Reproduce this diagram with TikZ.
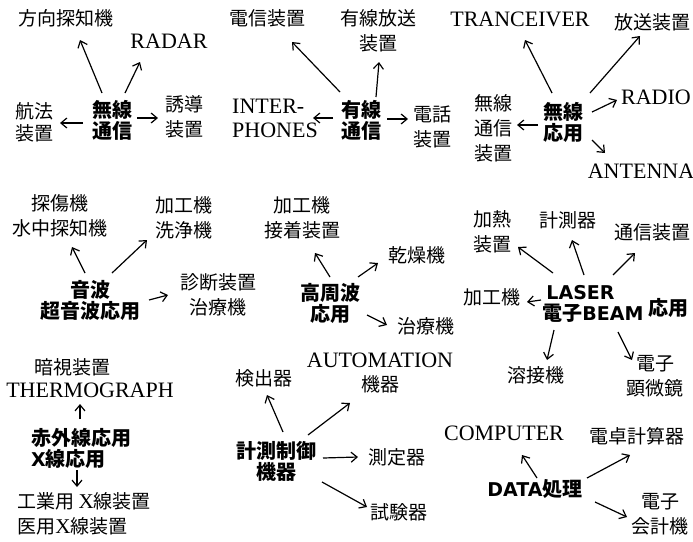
\documentclass[tikz,border=0pt]{standalone}
\usepackage{fontspec}
\setmainfont{Liberation Serif}
\newfontfamily\cjk{Noto Sans CJK JP}
\newfontfamily\lsans{DejaVu Sans}
\usetikzlibrary{arrows.meta,calc}
\tikzset{
  leaf/.style={inner sep=0pt, align=center, font=\cjk\fontsize{19}{25}\selectfont},
  hub/.style={inner sep=0pt, align=center, font=\cjk\bfseries\fontsize{20}{21}\selectfont},
  lat/.style={inner sep=0pt, align=center, font=\rmfamily\fontsize{22}{24}\selectfont},
  arr/.style={-{Straight Barb[length=6pt,width=10pt]}, line width=1.2pt},
}
\newcommand{\bsans}[1]{{\lsans\bfseries\fontsize{19}{21}\selectfont #1}}
\newcommand{\serx}{{\rmfamily\fontsize{21}{25}\selectfont X}}
\begin{document}
\begin{tikzpicture}[x=1pt,y=-1pt]
\path[fill=white] (0,0) rectangle (693,541);
\useasboundingbox (0,0) rectangle (693,541);

% group 1
\node[hub]  (n1c) at (112,120) {無線\\通信};
\node[leaf] (n1a) at (66,18) {方向探知機};
\node[lat]  (n1b) at (169,41) {RADAR};
\node[leaf,font=\cjk\fontsize{19}{22}\selectfont] (n1l) at (34,122) {航法\\装置};
\node[leaf] (n1r) at (184,117) {誘導\\装置};
\draw[arr] ($(n1c)+(-10,-27)$) -- ($(n1a)+(14,22)$);
\draw[arr] ($(n1c)+(13,-27)$) -- ($(n1b)+(-29,21)$);
\draw[arr] ($(n1c)+(-29,3)$) -- ($(n1l)+(26,1)$);
\draw[arr] ($(n1c)+(25,-2)$) -- ($(n1r)+(-26,1)$);

% group 2
\node[hub]  (n2c) at (361,120) {有線\\通信};
\node[leaf] (n2a) at (267,18) {電信装置};
\node[leaf] (n2b) at (378,31) {有線放送\\装置};
\node[lat,align=left] (n2l) at (275,118) {INTER-\\PHONES};
\node[leaf] (n2r) at (432,127) {電話\\装置};
\draw[arr] ($(n2c)+(-21,-28)$) -- ($(n2a)+(25,24)$);
\draw[arr] ($(n2c)+(15,-23)$) -- ($(n2b)+(1,31)$);
\draw[arr] ($(n2c)+(-28,-2)$) -- ($(n2l)+(38,0)$);
\draw[arr] ($(n2c)+(26,-1)$) -- ($(n2r)+(-24,-8)$);

% group 3
\node[hub]  (n3c) at (563,122) {無線\\応用};
\node[lat]  (n3a) at (520,19) {TRANCEIVER};
\node[leaf] (n3b) at (652,22) {放送装置};
\node[lat]  (n3r) at (656,97) {RADIO};
\node[lat]  (n3d) at (641,171) {ANTENNA};
\node[leaf] (n3l) at (493,128) {無線\\通信\\装置};
\draw[arr] ($(n3c)+(-11,-29)$) -- ($(n3a)+(5,21)$);
\draw[arr] ($(n3c)+(27,-29)$) -- ($(n3b)+(-12,14)$);
\draw[arr] ($(n3c)+(29,-10)$) -- ($(n3r)+(-39,3)$);
\draw[arr] ($(n3c)+(29,18)$) -- ($(n3d)+(-36,-18)$);
\draw[arr] ($(n3c)+(-25,3)$) -- ($(n3l)+(24,-3)$);

% group 4
\node[hub]  (n4c) at (90,300) {音波\\超音波応用};
\node[leaf] (n4a) at (60,216) {探傷機\\水中探知機};
\node[leaf] (n4b) at (184,218) {加工機\\洗浄機};
\node[leaf] (n4r) at (218,295) {診断装置\\治療機};
\draw[arr] ($(n4c)+(-5,-27)$) -- ($(n4a)+(12,31)$);
\draw[arr] ($(n4c)+(22,-27)$) -- ($(n4b)+(-37,22)$);
\draw[arr] ($(n4c)+(59,0)$) -- ($(n4r)+(-50,0)$);

% group 5
\node[hub]  (n5c) at (330,303) {高周波\\応用};
\node[leaf] (n5a) at (302,218) {加工機\\接着装置};
\node[leaf] (n5b) at (417,255) {乾燥機};
\node[leaf] (n5r) at (426,326) {治療機};
\draw[arr] ($(n5c)+(0,-26)$) -- ($(n5a)+(13,35)$);
\draw[arr] ($(n5c)+(28,-26)$) -- ($(n5b)+(-39,8)$);
\draw[arr] ($(n5c)+(37,12)$) -- ($(n5r)+(-39,-1)$);

% group 6
\node[hub,align=left] (n6c) at (593,304) {\hspace{4pt}\bsans{LASER}\\電子\bsans{BEAM}};
\node[hub]  (n6u) at (668,308) {応用};
\node[leaf] (n6a) at (492,232) {加熱\\装置};
\node[leaf] (n6b) at (568,220) {計測器};
\node[leaf] (n6d) at (652,232) {通信装置};
\node[leaf] (n6l) at (492,297) {加工機};
\node[leaf] (n6e) at (536,375) {溶接機};
\node[leaf] (n6f) at (655,376) {電子\\顕微鏡};
\draw[arr] ($(n6c)+(-40,-31)$) -- ($(n6a)+(26,15)$);
\draw[arr] ($(n6c)+(-9,-29)$) -- ($(n6b)+(4,20)$);
\draw[arr] ($(n6c)+(20,-29)$) -- ($(n6d)+(-17,21)$);
\draw[arr] ($(n6c)+(-52,-4)$) -- ($(n6l)+(35,5)$);
\draw[arr] ($(n6c)+(-39,26)$) -- ($(n6e)+(11,-15)$);
\draw[arr] ($(n6c)+(25,28)$) -- ($(n6f)+(-23,-16)$);

% group 7
\node[leaf] (n7a) at (72,367) {暗視装置};
\node[lat]  (n7b) at (90,390) {THERMOGRAPH};
\node[hub,align=left] (n7c) at (81,448) {赤外線応用\\\bsans{X}線応用};
\node[leaf,align=left] (n7d) at (84,514) {工業用 \serx 線装置\\医用\serx 線装置};
\draw[arr] ($(n7c)+(-1,-29)$) -- ($(n7b)+(-10,14)$);
\draw[arr] ($(n7c)+(-4,22)$) -- ($(n7d)+(-7,-27)$);

% group 8
\node[hub]  (n8b) at (276,461) {計測制御\\機器};
\node[leaf] (n8a) at (264,378) {検出器};
\node[lat]  (n8u) at (380,373) {AUTOMATION\\{\cjk\fontsize{19}{24}\selectfont 機器}};
\node[leaf] (n8c) at (397,457) {測定器};
\node[leaf] (n8d) at (399,512) {試験器};
\draw[arr] ($(n8b)+(7,-29)$) -- ($(n8a)+(3,17)$);
\draw[arr] ($(n8b)+(32,-26)$) -- ($(n8u)+(-30,30)$);
\draw[arr] ($(n8b)+(47,-3)$) -- ($(n8c)+(-39,0)$);
\draw[arr] ($(n8b)+(46,21)$) -- ($(n8d)+(-32,-5)$);

% group 9
\node[hub]  (n9c) at (535,489) {\bsans{DATA}処理};
\node[lat]  (n9a) at (504,433) {COMPUTER};
\node[leaf] (n9b) at (637,436) {電卓計算器};
\node[leaf] (n9d) at (660,514) {電子\\会計機};
\draw[arr] ($(n9c)+(2,-11)$) -- ($(n9a)+(18,22)$);
\draw[arr] ($(n9c)+(52,-11)$) -- ($(n9b)+(-7,19)$);
\draw[arr] ($(n9c)+(60,13)$) -- ($(n9d)+(-33,3)$);
\end{tikzpicture}
\end{document}
